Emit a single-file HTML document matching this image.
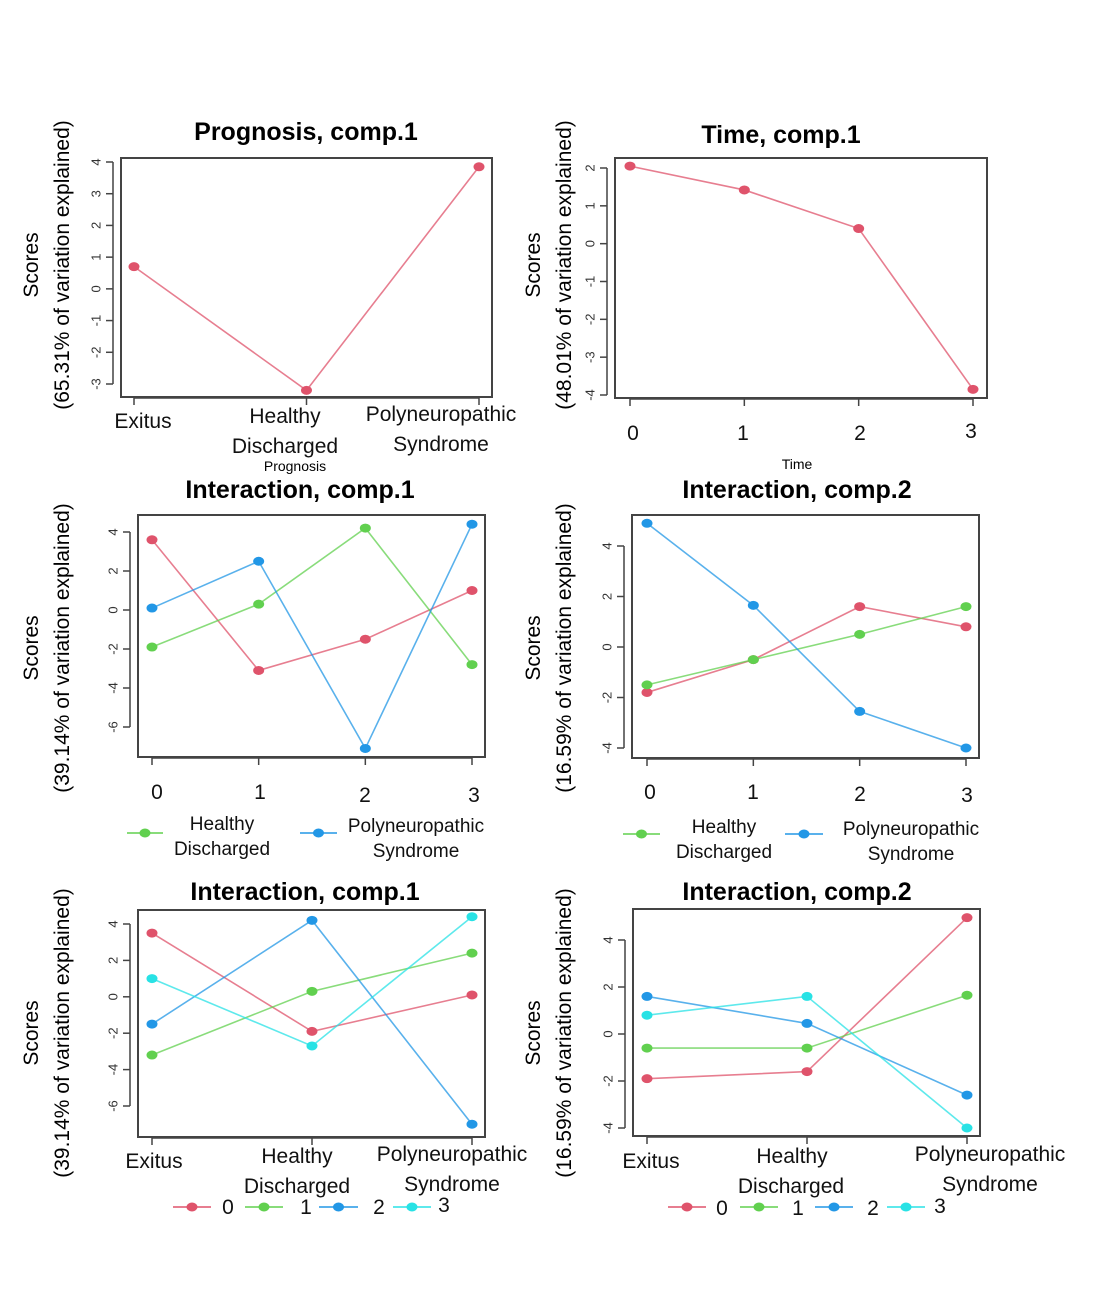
<!DOCTYPE html>
<html><head><meta charset="utf-8"><style>
html,body{margin:0;padding:0;background:#fff}
svg{display:block}
text{font-family:"Liberation Sans",sans-serif}
</style></head><body>
<svg id="fig" width="1098" height="1300" viewBox="0 0 1098 1300" xmlns="http://www.w3.org/2000/svg"></svg>
<script>
// ---- data ----
const progCats = ["Exitus","Healthy Discharged","Polyneuropathic Syndrome"];
const timeCats = ["0","1","2","3"];
const p1Values = [0.7, -3.2, 3.85];
const p2Values = [2.05, 1.42, 0.4, -3.85];
const p3Red = [3.6, -3.1, -1.5, 1.0];
const p3Green = [-1.9, 0.3, 4.2, -2.8];
const p3Blue = [0.1, 2.5, -7.1, 4.4];
const p4Red = [-1.8, -0.5, 1.6, 0.8];
const p4Green = [-1.5, -0.5, 0.5, 1.6];
const p4Blue = [4.9, 1.65, -2.55, -4.0];
const p5Red = [3.5, -1.9, 0.1];
const p5Green = [-3.2, 0.3, 2.4];
const p5Blue = [-1.5, 4.2, -7.0];
const p5Cyan = [1.0, -2.7, 4.4];
const p6Red = [-1.9, -1.6, 4.95];
const p6Green = [-0.6, -0.6, 1.65];
const p6Blue = [1.6, 0.45, -2.6];
const p6Cyan = [0.8, 1.6, -4.0];
const p1Ticks = [-3,-2,-1,0,1,2,3,4];
const p2Ticks = [-4,-3,-2,-1,0,1,2];
const p3Ticks = [-6,-4,-2,0,2,4];
const p4Ticks = [-4,-2,0,2,4];
const p5Ticks = [-6,-4,-2,0,2,4];
const p6Ticks = [-4,-2,0,2,4];

const RED="#DF536B", GREEN="#61D04F", BLUE="#2297E6", CYAN="#28E2E5";
const NS="http://www.w3.org/2000/svg";
const svg=document.getElementById('fig');
function el(tag, attrs, parent, txt){
  const e=document.createElementNS(NS,tag);
  for(const k in attrs) e.setAttribute(k, attrs[k]);
  if(txt!==undefined) e.textContent=txt;
  (parent||svg).appendChild(e); return e;
}
function txt(x,y,s,size,opts,parent){
  return el('text',Object.assign({x:x,y:y,'font-size':size,'text-anchor':'middle',fill:'#000'},opts||{}),parent,s);
}

function panel(cfg){
  const g=el('g',{});
  
  
  const b=cfg.box;
  const ys=v=>cfg.yA[1]+(v-cfg.yA[0])*(cfg.yB[1]-cfg.yA[1])/(cfg.yB[0]-cfg.yA[0]);
  const n=cfg.cats.length;
  const xs=i=>cfg.xs[0]+i*(cfg.xs[1]-cfg.xs[0])/(n-1);
  const t=txt(cfg.title[1],cfg.title[2],cfg.title[0],25,{'font-weight':'bold'},g);
  
  
  const r=el('rect',{x:b[0],y:b[1],width:b[2]-b[0],height:b[3]-b[1],fill:'none',stroke:'#444','stroke-width':2},g);
  
  
  const ya=el('g',{},g);
  
  
  el('line',{x1:b[0]-8,x2:b[0]-8,y1:ys(cfg.yticks[0]),y2:ys(cfg.yticks[cfg.yticks.length-1]),stroke:'#444','stroke-width':1.5},ya);
  cfg.yticks.forEach(v=>{
    const y=ys(v);
    el('line',{x1:b[0]-15,x2:b[0]-8,y1:y,y2:y,stroke:'#444','stroke-width':1.5},ya);
    const tl=txt(0,0,String(v),13,{fill:'#333',transform:`translate(${b[0]-24},${y}) rotate(-90)`,'dominant-baseline':'middle'},ya);
    
    
  });
  const xa=el('g',{},g);
  
  
  el('line',{x1:xs(0),x2:xs(n-1),y1:b[3]+1,y2:b[3]+1,stroke:'#444','stroke-width':1.5},xa);
  for(let i=0;i<n;i++){
    el('line',{x1:xs(i),x2:xs(i),y1:b[3],y2:b[3]+8,stroke:'#444','stroke-width':1.5},xa);
  }
  cfg.xlabels.forEach(l=>{
    const tl=txt(l[0],l[1],l[2],l[3]||21,{fill:'#111'},xa);
    
    
  });
  if(cfg.xtitle){
    const xt=txt(cfg.xtitle[1],cfg.xtitle[2],cfg.xtitle[0],14,{},g);
    
    
  }
  const cy=cfg.ytitleY;
  const y1=txt(0,0,'Scores',21,{transform:`translate(${cfg.ytitleX},${cy}) rotate(-90)`},g);
  
  
  const y2=txt(0,0,cfg.ypct,21,{transform:`translate(${cfg.ytitleX+31},${cy}) rotate(-90)`},g);
  
  
  cfg.series.forEach(s=>{
    const sg=el('g',{},g);
    
    
    const pts=s.vals.map((v,i)=>xs(i)+','+ys(v)).join(' ');
    el('polyline',{points:pts,fill:'none',stroke:s.color,'stroke-width':1.6,opacity:0.75},sg);
    s.vals.forEach((v,i)=>{
      const c=el('ellipse',{cx:xs(i),cy:ys(v),rx:5.5,ry:4.5,fill:s.color},sg);
      
      
    });
  });
  (cfg.legend||[]).forEach(L=>{
    const lg=el('g',{},g);
    
    
    el('line',{x1:L.x1,x2:L.x2,y1:L.y,y2:L.y,stroke:L.color,'stroke-width':1.6},lg);
    el('ellipse',{cx:(L.x1+L.x2)/2,cy:L.y,rx:5.5,ry:4.5,fill:L.color},lg);
    L.text.forEach(tt=>txt(tt[0],tt[1],tt[2],tt[3]||19,{fill:'#111'},lg));
  });
}

panel({name:'prognosis-comp1-panel',cats:progCats,box:[121,158,492,397],yA:[4,162],yB:[-3,384],xs:[134,479],
  yticks:p1Ticks,title:['Prognosis, comp.1',306,140],
  xlabels:[[143,428,'Exitus'],[285,423,'Healthy'],[285,453,'Discharged'],[441,421,'Polyneuropathic'],[441,451,'Syndrome']],
  xtitle:['Prognosis',295,471],ytitleX:38,ytitleY:265,ypct:'(65.31% of variation explained)',
  series:[{name:'series-prognosis',vals:p1Values,color:RED}]});

panel({name:'time-comp1-panel',cats:timeCats,box:[615,158,987,398],yA:[2,168],yB:[-4,395],xs:[630,973],
  yticks:p2Ticks,title:['Time, comp.1',781,143],
  xlabels:[[633,440,timeCats[0]],[743,440,timeCats[1]],[860,440,timeCats[2]],[971,438,timeCats[3]]],
  xtitle:['Time',797,469],ytitleX:540,ytitleY:265,ypct:'(48.01% of variation explained)',
  series:[{name:'series-time',vals:p2Values,color:RED}]});

panel({name:'interaction-comp1-time-panel',cats:timeCats,box:[138,515,485,757],yA:[4,532],yB:[-6,727],xs:[152,472],
  yticks:p3Ticks,title:['Interaction, comp.1',300,498],
  xlabels:[[157,799,'0'],[260,799,'1'],[365,802,'2'],[474,802,'3']],
  ytitleX:38,ytitleY:648,ypct:'(39.14% of variation explained)',
  series:[{name:'series-exitus',vals:p3Red,color:RED},{name:'series-healthy',vals:p3Green,color:GREEN},{name:'series-polyneuropathic',vals:p3Blue,color:BLUE}],
  legend:[{x1:127,x2:163,y:833,color:GREEN,text:[[222,830,'Healthy'],[222,855,'Discharged']]},
          {x1:300,x2:337,y:833,color:BLUE,text:[[416,832,'Polyneuropathic'],[416,857,'Syndrome']]}]});

panel({name:'interaction-comp2-time-panel',cats:timeCats,box:[632,515,979,758],yA:[4,546],yB:[-4,748],xs:[647,966],
  yticks:p4Ticks,title:['Interaction, comp.2',797,498],
  xlabels:[[650,799,'0'],[753,799,'1'],[860,801,'2'],[967,802,'3']],
  ytitleX:540,ytitleY:648,ypct:'(16.59% of variation explained)',
  series:[{name:'series-exitus',vals:p4Red,color:RED},{name:'series-healthy',vals:p4Green,color:GREEN},{name:'series-polyneuropathic',vals:p4Blue,color:BLUE}],
  legend:[{x1:623,x2:660,y:834,color:GREEN,text:[[724,833,'Healthy'],[724,858,'Discharged']]},
          {x1:785,x2:823,y:834,color:BLUE,text:[[911,835,'Polyneuropathic'],[911,860,'Syndrome']]}]});

panel({name:'interaction-comp1-prognosis-panel',cats:progCats,box:[138,910,485,1137],yA:[4,924],yB:[-6,1106],xs:[152,472],
  yticks:p5Ticks,title:['Interaction, comp.1',305,900],
  xlabels:[[154,1168,'Exitus'],[297,1163,'Healthy'],[297,1193,'Discharged'],[452,1161,'Polyneuropathic'],[452,1191,'Syndrome']],
  ytitleX:38,ytitleY:1033,ypct:'(39.14% of variation explained)',
  series:[{name:'series-time-0',vals:p5Red,color:RED},{name:'series-time-1',vals:p5Green,color:GREEN},{name:'series-time-2',vals:p5Blue,color:BLUE},{name:'series-time-3',vals:p5Cyan,color:CYAN}],
  legend:[{x1:173,x2:211,y:1207,color:RED,text:[[228,1214,'0',21]]},
          {x1:245,x2:283,y:1207,color:GREEN,text:[[306,1214,'1',21]]},
          {x1:319,x2:358,y:1207,color:BLUE,text:[[379,1214,'2',21]]},
          {x1:393,x2:431,y:1207,color:CYAN,text:[[444,1212,'3',21]]}]});

panel({name:'interaction-comp2-prognosis-panel',cats:progCats,box:[633,909,980,1136],yA:[4,940],yB:[-4,1128],xs:[647,967],
  yticks:p6Ticks,title:['Interaction, comp.2',797,900],
  xlabels:[[651,1168,'Exitus'],[792,1163,'Healthy'],[791,1193,'Discharged'],[990,1161,'Polyneuropathic'],[990,1191,'Syndrome']],
  ytitleX:540,ytitleY:1033,ypct:'(16.59% of variation explained)',
  series:[{name:'series-time-0',vals:p6Red,color:RED},{name:'series-time-1',vals:p6Green,color:GREEN},{name:'series-time-2',vals:p6Blue,color:BLUE},{name:'series-time-3',vals:p6Cyan,color:CYAN}],
  legend:[{x1:668,x2:706,y:1207,color:RED,text:[[722,1215,'0',21]]},
          {x1:740,x2:778,y:1207,color:GREEN,text:[[798,1215,'1',21]]},
          {x1:815,x2:853,y:1207,color:BLUE,text:[[873,1215,'2',21]]},
          {x1:887,x2:925,y:1207,color:CYAN,text:[[940,1213,'3',21]]}]});
</script>
</body></html>
